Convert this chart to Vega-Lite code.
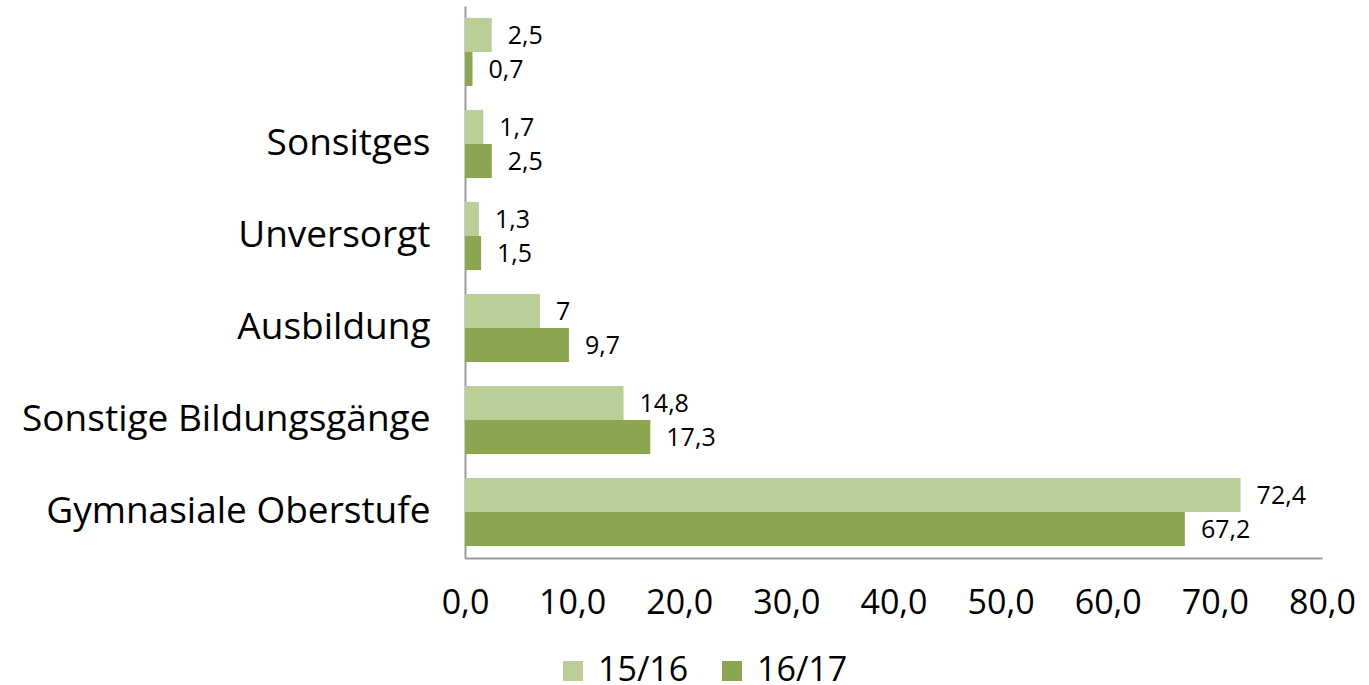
{
  "$schema": "https://vega.github.io/schema/vega-lite/v6.json",
  "width": 857,
  "height": 552,
  "autosize": {"type": "none"},
  "padding": {"left": 465, "top": 6, "right": 47, "bottom": 127},
  "config": {
    "locale": {"number": {"decimal": ",", "thousands": ".", "grouping": [3], "currency": ["", " €"]}},
    "font": "Open Sans",
    "view": {"stroke": null}
  },
  "data": {
    "values": [
      {"kat": "", "jahr": "15/16", "wert": 2.5},
      {"kat": "", "jahr": "16/17", "wert": 0.7},
      {"kat": "Sonsitges", "jahr": "15/16", "wert": 1.7},
      {"kat": "Sonsitges", "jahr": "16/17", "wert": 2.5},
      {"kat": "Unversorgt", "jahr": "15/16", "wert": 1.3},
      {"kat": "Unversorgt", "jahr": "16/17", "wert": 1.5},
      {"kat": "Ausbildung", "jahr": "15/16", "wert": 7},
      {"kat": "Ausbildung", "jahr": "16/17", "wert": 9.7},
      {"kat": "Sonstige Bildungsgänge", "jahr": "15/16", "wert": 14.8},
      {"kat": "Sonstige Bildungsgänge", "jahr": "16/17", "wert": 17.3},
      {"kat": "Gymnasiale Oberstufe", "jahr": "15/16", "wert": 72.4},
      {"kat": "Gymnasiale Oberstufe", "jahr": "16/17", "wert": 67.2}
    ]
  },
  "encoding": {
    "y": {
      "field": "kat",
      "type": "nominal",
      "sort": ["", "Sonsitges", "Unversorgt", "Ausbildung", "Sonstige Bildungsgänge", "Gymnasiale Oberstufe"],
      "scale": {"paddingInner": 0.26, "paddingOuter": 0.13},
      "axis": {
        "title": null,
        "ticks": false,
        "domainColor": "#999999",
        "domainWidth": 2,
        "labelFontSize": 37,
        "labelColor": "#000000",
        "labelPadding": 35,
        "labelLimit": 500
      }
    },
    "yOffset": {"field": "jahr", "type": "nominal", "sort": ["15/16", "16/17"]},
    "x": {
      "field": "wert",
      "type": "quantitative",
      "scale": {"domain": [0, 80]},
      "axis": {
        "title": null,
        "values": [0, 10, 20, 30, 40, 50, 60, 70, 80],
        "format": ".1f",
        "grid": false,
        "ticks": false,
        "domainColor": "#999999",
        "domainWidth": 2,
        "labelFontSize": 34,
        "labelColor": "#000000",
        "labelPadding": 28,
        "labelFlush": false
      }
    }
  },
  "layer": [
    {
      "mark": {"type": "bar"},
      "encoding": {
        "color": {
          "field": "jahr",
          "type": "nominal",
          "scale": {"domain": ["15/16", "16/17"], "range": ["#BACF97", "#8AA64F"]},
          "legend": {
            "title": null,
            "orient": "none",
            "direction": "horizontal",
            "legendX": 91,
            "legendY": 648,
            "symbolType": "square",
            "symbolSize": 400,
            "symbolStrokeWidth": 0,
            "labelFontSize": 34,
            "labelColor": "#000000",
            "labelOffset": 8,
            "columnPadding": 26
          }
        }
      }
    },
    {
      "mark": {"type": "text", "align": "left", "baseline": "middle", "dx": 16, "dy": 1, "fontSize": 25, "color": "#000000"},
      "encoding": {
        "text": {"field": "wert", "type": "quantitative", "format": ".1~f"}
      }
    }
  ]
}
